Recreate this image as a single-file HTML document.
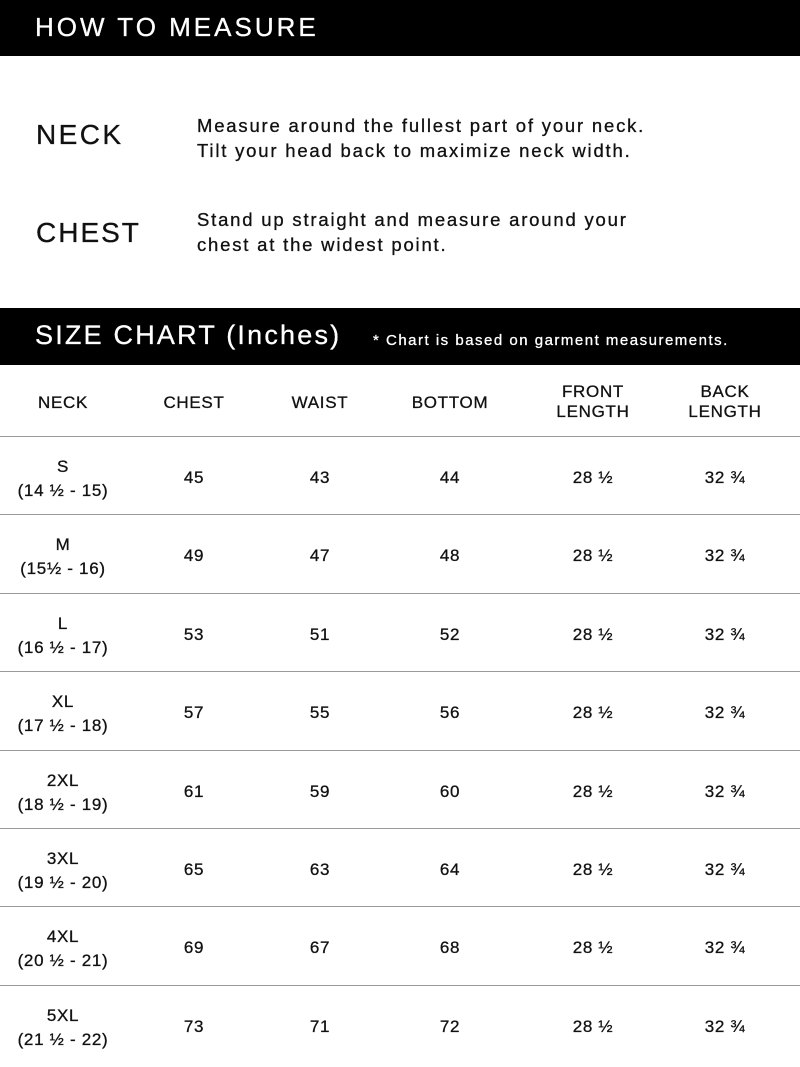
<!DOCTYPE html>
<html><head><meta charset="utf-8"><style>
body{margin:0;width:800px;height:1067px;background:#fff;position:relative;overflow:hidden;font-family:"Liberation Sans",sans-serif;color:#111}
.a{position:absolute;white-space:nowrap;-webkit-text-stroke:0.3px currentColor}
.bar{position:absolute;left:0;width:800px;background:#000}
.c{position:absolute;transform:translateX(-50%);text-align:center;white-space:nowrap;font-size:17px;letter-spacing:0.7px;line-height:22px;-webkit-text-stroke:0.3px #111}
.ln{position:absolute;left:0;width:800px;height:1px;background:#999}
</style></head><body>
<div class="bar" style="top:0;height:56px"></div>
<div class="a" style="left:35px;top:12px;color:#fff;font-size:26px;letter-spacing:3px">HOW TO MEASURE</div>
<div class="a" style="left:36px;top:119px;font-size:28px;letter-spacing:2.4px">NECK</div>
<div class="a" style="left:36px;top:217px;font-size:28px;letter-spacing:2px">CHEST</div>
<div class="a" style="left:197px;top:113px;font-size:18.5px;line-height:25px;letter-spacing:1.8px">Measure around the fullest part of your neck.<br>Tilt your head back to maximize neck width.</div>
<div class="a" style="left:197px;top:207px;font-size:18.5px;line-height:25px;letter-spacing:1.8px">Stand up straight and measure around your<br>chest at the widest point.</div>
<div class="bar" style="top:308px;height:57px"></div>
<div class="a" style="left:35px;top:320px;color:#fff;font-size:27px;letter-spacing:2.2px">SIZE CHART (Inches)</div>
<div class="a" style="left:373px;top:332px;color:#fff;font-size:15px;letter-spacing:1.5px">* Chart is based on garment measurements.</div>
<div class="c" style="left:63px;top:392px">NECK</div>
<div class="c" style="left:194px;top:392px">CHEST</div>
<div class="c" style="left:320px;top:392px">WAIST</div>
<div class="c" style="left:450px;top:392px">BOTTOM</div>
<div class="c" style="left:593px;top:382px;line-height:20px">FRONT<br>LENGTH</div>
<div class="c" style="left:725px;top:382px;line-height:20px">BACK<br>LENGTH</div>
<div class="ln" style="top:436px"></div>
<div id="rows"></div>
<script>
var d=[["S","(14 ½ - 15)",45,43,44],["M","(15½ - 16)",49,47,48],["L","(16 ½ - 17)",53,51,52],["XL","(17 ½ - 18)",57,55,56],["2XL","(18 ½ - 19)",61,59,60],["3XL","(19 ½ - 20)",65,63,64],["4XL","(20 ½ - 21)",69,67,68],["5XL","(21 ½ - 22)",73,71,72]];
var h="";
for(var i=0;i<8;i++){var t=Math.round(436+i*78.4);var r=d[i];
h+='<div class="c" style="left:63px;top:'+(t+19)+'px;line-height:24px">'+r[0]+'<br>'+r[1]+'</div>';
var cols=[[194,r[2]],[320,r[3]],[450,r[4]],[593,"28 ½"],[725,"32 ¾"]];
for(var j=0;j<5;j++)h+='<div class="c" style="left:'+cols[j][0]+'px;top:'+(t+31)+'px">'+cols[j][1]+'</div>';
if(i<7)h+='<div class="ln" style="top:'+Math.round(436+(i+1)*78.4)+'px"></div>';}
document.getElementById("rows").innerHTML=h;
</script>
</body></html>
